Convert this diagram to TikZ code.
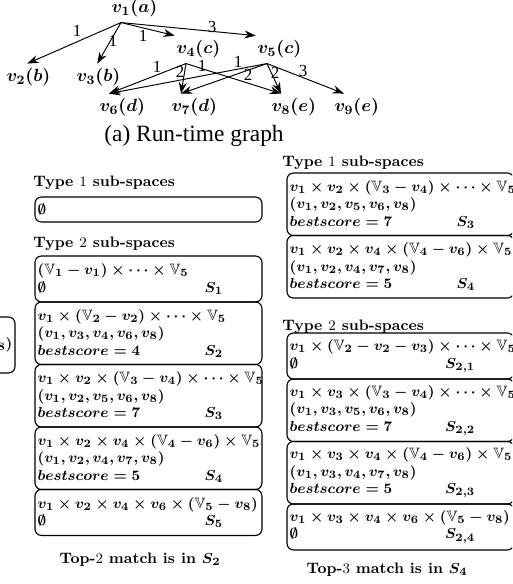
\documentclass[tikz,border=0pt]{standalone}
\usepackage{amsmath}
\usepackage{amssymb}
\usepackage{fontspec}
\newfontfamily\capfont{Liberation Serif}
\usetikzlibrary{arrows.meta}
\newcommand{\VV}{\mathbb{V}}
\newcommand{\bline}[1]{\makebox[137.5pt][l]{$#1$}}
\newcommand{\sline}[2]{\makebox[137.5pt][l]{\makebox[115pt]{$#1$\hfill$#2$}}}

\begin{document}
\begin{tikzpicture}[x={(0.62pt,0)},y={(0,-0.62pt)},
  vtx/.style={inner xsep=1pt,inner ysep=3pt,anchor=base,font=\fontsize{11}{13}\selectfont\boldmath},
  wlbl/.style={inner sep=0pt,font=\capfont\fontsize{10.5}{12}\selectfont},
  gedge/.style={line width=0.6pt,-{Stealth[length=7pt,width=5pt]}},
  hdr/.style={inner sep=0pt,anchor=base west,font=\fontsize{9.4}{11}\selectfont\bfseries},
  ftr/.style={inner sep=0pt,anchor=base,font=\fontsize{9.4}{11}\selectfont\bfseries},
  sbox/.style={draw,rounded corners=4pt,line width=0.7pt,outer sep=0pt,anchor=north west,inner xsep=1.6pt,inner ysep=0pt,align=left,font=\fontsize{9.3}{10.85}\selectfont\boldmath},
  oneline/.style={sbox,minimum height=15.5pt},
  twoline/.style={sbox,minimum height=28.5pt},
  threeline/.style={sbox,minimum height=38.75pt}]
\useasboundingbox (0,0) rectangle (512,584);
\clip (0,0) rectangle (512,584);
% run-time graph
\node[vtx] (v1) at (121,13) {$v_1$\rlap{$(a)$}};
\node[vtx] (v2) at (16,82) {$v_2$\rlap{$(b)$}};
\node[vtx] (v3) at (86,82) {$v_3$\rlap{$(b)$}};
\node[vtx] (v4) at (186,54) {$v_4$\rlap{$(c)$}};
\node[vtx] (v5) at (267,54) {$v_5$\rlap{$(c)$}};
\node[vtx] (v6) at (109,112) {$v_6$\rlap{$(d)$}};
\node[vtx] (v7) at (181,112) {$v_7$\rlap{$(d)$}};
\node[vtx] (v8) at (281,112) {$v_8$\rlap{$(e)$}};
\node[vtx] (v9) at (344,112) {$v_9$\rlap{$(e)$}};
\foreach \a/\b/\t in {v1/v2/north east,v1/v3/north east,v1/v4/north west,v1/v5/north west,v4/v6/north,v4/v7/north,v4/v8/north,v5/v6/north,v5/v7/north,v5/v8/north,v5/v9/north} {\draw[gedge] (\a.south) -- (\b.\t);}
\foreach \n/\x/\y/\t in {a/77/31/1,b/113/41/1,c/143/36/1,d/212/27/3,e/157/67/1,f/180/72/2,g/202/66/1,h/238/62/1,i/248/75/2,j/275/73/2,k/303/71/3} {\node[wlbl] (w\n) at (\x,\y) {\t};}
\node[inner sep=0pt,font=\capfont\fontsize{14.5}{16}\selectfont] (capa) at (194,136) {(a) Run-time graph};
% box cut off on the left
\node[sbox,anchor=north east,minimum height=34.7pt] (prev) at (15,317) {\makebox[137.5pt][r]{$(v_1,v_3,v_4,v_6,v_8)$}};
% top-2 sub-spaces
\node[hdr] (lh1) at (33,187) {Type $1$ sub-spaces};
\node[oneline] (lt1) at (35,197) {\bline{\emptyset}};
\node[hdr] (lh2) at (33,247) {Type $2$ sub-spaces};
\node[twoline] (ls1) at (35,256) {\bline{(\VV_1-v_1)\times\cdots\times\VV_5}\\\sline{\emptyset}{S_1}};
\node[threeline] (ls2) at (ls1.south west) {\bline{v_1\times(\VV_2-v_2)\times\cdots\times\VV_5}\\\bline{(v_1,v_3,v_4,v_6,v_8)}\\\sline{bestscore=4}{S_2}};
\node[threeline] (ls3) at (ls2.south west) {\bline{v_1\times v_2\times(\VV_3-v_4)\times\cdots\times\VV_5}\\\bline{(v_1,v_2,v_5,v_6,v_8)}\\\sline{bestscore=7}{S_3}};
\node[threeline] (ls4) at (ls3.south west) {\bline{v_1\times v_2\times v_4\times(\VV_4-v_6)\times\VV_5}\\\bline{(v_1,v_2,v_4,v_7,v_8)}\\\sline{bestscore=5}{S_4}};
\node[twoline] (ls5) at (ls4.south west) {\bline{v_1\times v_2\times v_4\times v_6\times(\VV_5-v_8)}\\\sline{\emptyset}{S_5}};
\node[ftr] (lf) at (140,563) {Top-$2$ match is in {\boldmath$S_2$}};
% top-3 sub-spaces
\node[hdr] (rh1) at (282,167) {Type $1$ sub-spaces};
\node[threeline] (rs3) at (287,173) {\bline{v_1\times v_2\times(\VV_3-v_4)\times\cdots\times\VV_5}\\\bline{(v_1,v_2,v_5,v_6,v_8)}\\\sline{bestscore=7}{S_3}};
\node[threeline] (rs4) at (rs3.south west) {\bline{v_1\times v_2\times v_4\times(\VV_4-v_6)\times\VV_5}\\\bline{(v_1,v_2,v_4,v_7,v_8)}\\\sline{bestscore=5}{S_4}};
\node[hdr] (rh2) at (282,330) {Type $2$ sub-spaces};
\node[twoline] (r21) at (287,333) {\bline{v_1\times(\VV_2-v_2-v_3)\times\cdots\times\VV_5}\\\sline{\emptyset}{S_{2,1}}};
\node[threeline] (r22) at (r21.south west) {\bline{v_1\times v_3\times(\VV_3-v_4)\times\cdots\times\VV_5}\\\bline{(v_1,v_3,v_5,v_6,v_8)}\\\sline{bestscore=7}{S_{2,2}}};
\node[threeline] (r23) at (r22.south west) {\bline{v_1\times v_3\times v_4\times(\VV_4-v_6)\times\VV_5}\\\bline{(v_1,v_3,v_4,v_7,v_8)}\\\sline{bestscore=5}{S_{2,3}}};
\node[twoline] (r24) at (r23.south west) {\bline{v_1\times v_3\times v_4\times v_6\times(\VV_5-v_8)}\\\sline{\emptyset}{S_{2,4}}};
\node[ftr] (rf) at (387,573) {Top-$3$ match is in {\boldmath$S_4$}};
\end{tikzpicture}
\end{document}
